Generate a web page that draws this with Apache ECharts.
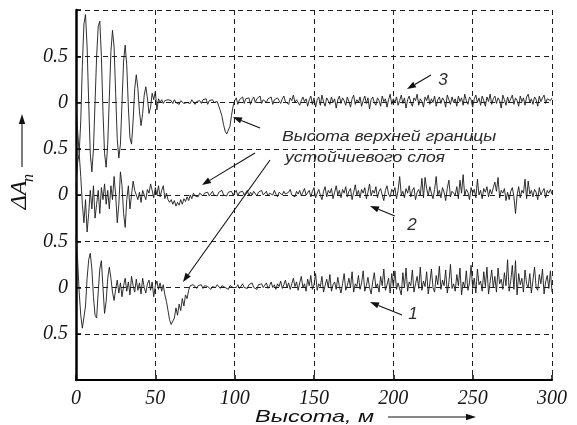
<!DOCTYPE html>
<html><head><meta charset="utf-8">
<script src="https://cdn.jsdelivr.net/npm/echarts@6/dist/echarts.min.js"></script>
<style>html,body{margin:0;padding:0;background:#fff}#c{width:577px;height:425px}</style>
</head><body><div id="c"></div>
<script>
// Amplitude deviation ΔA_n for three soundings, sampled every 1 m of height (0..300 m)
const trace3 = [
 0.05,-0.3,-0.55,-0.2,0.4,0.85,0.95,0.6,0.0,-0.55,
 -0.75,-0.5,0.0,0.5,0.82,0.88,0.5,-0.1,-0.55,-0.7,
 -0.45,0.05,0.55,0.78,0.6,0.1,-0.4,-0.6,-0.45,0.0,
 0.45,0.62,0.4,-0.05,-0.38,-0.45,-0.2,0.15,0.3,0.15,
 -0.1,-0.25,-0.12,0.08,0.17,0.05,-0.12,-0.05,0.1,0.03,
 0.12,-0.08,0.04,0.0,0.03,-0.01,0.02,0.0,0.03,0.01,
 0.02,-0.01,0.03,0.0,0.01,-0.02,0.02,0.04,-0.01,0.01,
 0.0,0.02,-0.01,0.03,0.05,-0.02,0.01,0.0,0.02,-0.01,
 0.03,0.01,0.04,-0.02,0.02,0.01,0.03,0.0,-0.02,0.01,
 -0.04,-0.09,-0.15,-0.24,-0.31,-0.34,-0.33,-0.26,-0.14,-0.04,
 0.02,0.05,-0.02,0.03,0.01,0.06,-0.01,0.04,0.02,0.05,
 -0.02,0.03,0.06,0.0,0.04,0.02,0.07,-0.01,0.03,0.05,
 0.0,0.04,0.02,0.06,-0.02,0.03,0.01,0.05,0.02,-0.01,
 0.04,0.07,0.01,0.03,-0.02,0.05,0.02,0.08,0.0,0.03,
 0.05,-0.03,0.02,0.06,0.01,0.04,-0.04,0.03,0.07,-0.02,
 0.05,-0.05,0.03,0.06,-0.03,0.08,0.01,-0.04,0.05,0.02,
 -0.02,0.06,0.0,0.04,-0.06,0.03,0.07,-0.01,0.05,0.02,
 -0.03,0.06,0.01,-0.05,0.04,0.08,-0.02,0.03,0.0,0.06,
 -0.04,0.02,0.07,-0.01,0.05,-0.07,0.03,0.06,0.0,-0.03,
 0.05,0.02,-0.04,0.07,0.01,0.04,-0.05,0.03,0.09,-0.02,
 0.04,0.0,0.06,-0.03,0.02,0.08,-0.01,0.05,-0.06,0.03,
 0.07,0.0,-0.04,0.05,0.02,0.09,-0.03,0.04,0.01,-0.05,
 0.06,0.02,0.08,-0.02,0.04,0.0,0.07,-0.04,0.03,0.06,
 -0.01,0.05,0.02,-0.05,0.08,0.03,-0.02,0.06,0.0,0.04,
 -0.04,0.07,0.01,0.05,-0.03,0.09,0.02,-0.02,0.06,0.03,
 -0.05,0.04,0.08,0.0,0.05,-0.03,0.07,0.02,-0.04,0.06,
 0.01,0.09,-0.02,0.04,0.07,-0.01,0.05,0.02,-0.06,0.08,
 0.03,-0.03,0.06,0.0,0.04,0.08,-0.02,0.05,0.02,-0.04,
 0.07,0.01,0.05,-0.03,0.06,0.09,0.0,0.04,-0.02,0.06,
 0.03,-0.04,0.07,0.01,0.05,0.08,-0.01,0.04,0.06,0.02,
 0.05
];
const trace2 = [
 0.1,0.35,0.45,0.2,-0.1,-0.3,-0.05,-0.4,-0.2,0.05,
 -0.15,0.1,-0.25,-0.1,0.05,-0.2,0.08,-0.05,0.12,-0.1,
 0.05,-0.15,0.1,-0.05,0.2,0.0,-0.3,-0.1,0.25,0.1,
 -0.2,-0.35,-0.05,0.1,-0.15,0.0,0.15,0.05,0.05,-0.05,
 0.03,-0.08,0.05,0.0,-0.05,0.06,0.02,0.12,0.05,-0.03,
 0.08,0.0,0.1,-0.02,0.05,0.1,-0.04,0.02,-0.05,-0.08,
 -0.05,-0.1,-0.06,-0.12,-0.08,-0.11,-0.05,-0.1,-0.04,-0.07,
 -0.02,-0.06,0.0,-0.04,0.02,-0.01,0.01,-0.02,0.02,0.0,
 -0.01,0.02,0.0,0.03,-0.01,0.01,0.04,0.0,0.02,-0.01,
 0.03,0.01,0.05,0.0,0.02,-0.01,0.03,0.01,0.04,0.0,
 0.02,0.05,-0.01,0.03,0.01,0.04,0.0,0.02,0.05,-0.01,
 0.03,0.0,0.04,0.02,-0.01,0.03,0.01,0.05,0.0,0.02,
 0.04,-0.01,0.02,0.03,0.0,0.05,0.01,-0.02,0.03,0.02,
 0.0,0.04,0.01,-0.01,0.03,0.06,0.0,0.02,-0.02,0.04,
 0.01,0.05,-0.01,0.03,0.07,0.0,0.02,0.05,-0.02,0.04,
 0.08,-0.03,0.02,0.06,0.0,-0.05,0.04,0.09,-0.02,0.05,
 0.02,0.07,-0.04,0.03,0.1,0.0,0.05,-0.03,0.06,0.02,
 0.09,-0.02,0.04,0.07,-0.05,0.03,0.11,0.0,0.05,-0.03,
 0.06,0.02,0.08,-0.04,0.03,0.12,-0.01,0.05,0.02,0.09,
 -0.03,0.04,0.07,0.0,-0.06,0.05,0.1,0.01,-0.02,0.06,
 0.03,0.08,-0.04,0.05,0.2,0.0,0.04,-0.03,0.07,0.02,
 0.1,-0.02,0.05,0.08,-0.05,0.03,0.06,0.0,0.18,-0.03,
 0.19,0.07,-0.01,0.09,0.02,-0.04,0.06,0.2,0.0,0.05,
 -0.03,0.08,0.03,-0.06,0.07,0.16,-0.02,0.04,0.06,0.0,
 0.09,-0.04,0.16,0.02,0.22,-0.01,0.06,0.03,-0.05,0.08,
 0.02,0.06,-0.03,0.17,0.0,0.05,-0.04,0.07,0.03,0.09,
 -0.02,0.06,0.01,0.08,0.14,0.04,0.19,-0.03,0.05,0.02,
 0.07,-0.06,0.03,-0.05,0.04,0.08,-0.02,-0.2,0.0,0.09,
 -0.03,0.05,0.02,0.17,-0.04,0.15,0.01,0.05,-0.02,0.06,
 0.03,-0.05,0.08,0.0,0.04,0.07,-0.03,0.05,0.02,0.06,
 0.01
];
const trace1 = [
 0.54,0.3,-0.05,-0.3,-0.44,-0.46,-0.2,0.1,0.3,0.37,
 0.2,-0.1,-0.3,-0.33,-0.05,0.2,0.29,0.0,-0.28,-0.15,
 0.1,0.22,0.1,-0.05,-0.14,-0.02,0.08,-0.06,0.05,-0.1,
 0.02,0.1,-0.04,0.06,-0.08,0.12,0.02,-0.05,0.09,-0.03,
 0.05,-0.07,0.1,0.0,-0.06,0.04,0.08,-0.03,0.06,-0.1,
 0.02,0.07,-0.02,0.05,-0.04,0.03,-0.08,-0.15,-0.25,-0.35,
 -0.4,-0.42,-0.33,-0.22,-0.3,-0.18,-0.25,-0.12,-0.2,-0.08,
 -0.12,-0.03,0.02,0.0,0.03,0.01,-0.01,0.02,0.0,0.03,
 -0.01,0.02,0.0,0.01,0.03,-0.02,0.01,0.02,0.0,0.03,
 0.01,-0.01,0.02,0.04,0.0,0.01,-0.02,0.02,0.03,0.0,
 0.02,0.0,0.03,-0.01,0.01,0.04,0.0,0.02,-0.01,0.03,
 0.01,0.05,0.0,0.02,-0.02,0.03,0.01,0.04,0.0,0.02,
 0.05,-0.01,0.02,0.06,0.0,0.03,-0.02,0.04,0.01,0.07,
 -0.01,0.03,0.08,0.0,0.05,-0.02,0.04,0.1,0.01,0.06,
 -0.03,0.05,0.12,0.0,0.04,-0.04,0.09,0.02,0.13,-0.02,
 0.03,0.15,-0.03,0.04,0.01,0.12,-0.05,0.02,0.09,0.0,
 0.14,-0.04,0.03,0.06,-0.02,0.11,0.01,-0.06,0.04,0.15,
 -0.03,0.02,0.1,0.0,0.17,-0.05,0.04,0.01,0.13,-0.02,
 0.05,0.18,-0.04,0.02,0.11,0.0,-0.07,0.06,0.16,0.0,
 0.04,-0.05,0.12,0.02,0.2,-0.03,0.03,0.1,-0.06,0.15,
 0.01,0.18,-0.02,0.05,0.03,-0.08,0.16,0.0,0.21,-0.04,
 0.06,0.02,0.19,-0.05,0.04,0.12,-0.01,0.22,-0.03,0.07,
 0.01,0.17,-0.07,0.05,0.2,0.0,-0.05,0.13,0.03,0.23,
 -0.02,0.08,0.02,0.19,-0.06,0.05,0.25,-0.01,0.04,-0.04,
 0.14,0.02,0.21,-0.08,0.06,0.0,0.18,-0.03,0.05,0.24,
 -0.01,0.1,-0.06,0.2,0.03,0.07,-0.04,0.17,0.01,0.22,
 -0.07,0.06,0.19,0.0,0.12,-0.05,0.21,0.04,0.09,-0.02,
 0.16,0.02,0.3,-0.04,0.07,0.24,-0.02,0.29,-0.08,0.15,
 0.03,0.1,-0.05,0.19,0.04,0.0,0.15,-0.06,0.08,0.22,
 0.0,-0.03,0.14,0.04,0.2,-0.07,0.06,0.13,-0.01,0.18,
 -0.05
];
// Each sounding is shifted to its own zero line on the shared axis
const baselines = [1, 2, 3];
const heightStep = 1; // m between samples
const yTickLabels = ['', '0.5', '0', '0.5', '0', '0.5', '0', '0.5', ''];
const xTickStep = 50;

const ink = '#161616';
const serif = 'Liberation Serif';
const sans = 'Liberation Sans';

function toPoints(values, base) {
  return values.map((v, i) => [i * heightStep, base + v]);
}

const chart = echarts.init(document.getElementById('c'), null, { renderer: 'canvas' });

const dashed = { color: '#1e1e1e', width: 1, type: [5, 4] };

chart.setOption({
  animation: false,
  backgroundColor: '#fff',
  grid: { left: 76, right: 25, top: 10, bottom: 45 },
  xAxis: {
    type: 'value', min: 0, max: 300, interval: xTickStep,
    axisLine: { show: true, onZero: false, lineStyle: { color: '#000', width: 2 } },
    axisTick: { show: true, inside: true, length: 5, lineStyle: { color: '#000', width: 1.5 } },
    axisLabel: { color: ink, fontFamily: serif, fontStyle: 'italic', fontSize: 20, margin: 9 },
    splitLine: { show: true, showMinLine: false, lineStyle: dashed }
  },
  yAxis: {
    type: 'value', min: 0, max: 4, interval: 0.5,
    axisLine: { show: true, onZero: false, lineStyle: { color: '#000', width: 2.5 } },
    axisTick: { show: true, inside: true, length: 5, lineStyle: { color: '#000', width: 1.5 } },
    axisLabel: {
      color: ink, fontFamily: serif, fontStyle: 'italic', fontSize: 20, margin: 8,
      formatter: v => yTickLabels[Math.round(v / 0.5)] || ''
    },
    splitLine: { show: true, showMinLine: false, lineStyle: dashed }
  },
  series: [trace1, trace2, trace3].map((vals, k) => ({
    type: 'line',
    data: toPoints(vals, baselines[k]),
    showSymbol: false,
    symbol: 'none',
    lineStyle: { color: '#1a1a1a', width: 0.9 },
    z: 3
  }))
});

// Annotations are anchored in data coordinates (height in m, axis units)
const px = p => chart.convertToPixel({ gridIndex: 0 }, p);

function arrow(fromD, toD, head, pixel) {
  const a = pixel ? fromD : px(fromD);
  const b = pixel ? toD : px(toD);
  const dx = b[0] - a[0], dy = b[1] - a[1];
  const len = Math.hypot(dx, dy);
  const ux = dx / len, uy = dy / len;
  const L = head || 9, W = 3.2;
  const bx = b[0] - ux * L, by = b[1] - uy * L;
  return [
    { type: 'line', silent: true, z: 10,
      shape: { x1: a[0], y1: a[1], x2: bx, y2: by },
      style: { stroke: '#111', lineWidth: 1.1 } },
    { type: 'polygon', silent: true, z: 10,
      shape: { points: [[b[0], b[1]], [bx - uy * W, by + ux * W], [bx + uy * W, by - ux * W]] },
      style: { fill: '#111' } }
  ];
}

function label(text, posD, opts) {
  const p = px(posD);
  return Object.assign({
    type: 'text', silent: true, z: 11, x: p[0], y: p[1],
    style: Object.assign({
      text, fill: '#2a2a2a', font: 'italic 14px "' + sans + '"',
      textAlign: 'left', textVerticalAlign: 'middle'
    }, opts.style || {})
  }, opts.el || {});
}

const g = [];
// boundary-layer annotation
g.push(label('Высота верхней границы', [129.8, 2.627], { el: { scaleX: 1.26 } }));
g.push(label('устойчиевого слоя', [131.7, 2.40], { el: { scaleX: 1.26 } }));
g.push(...arrow([116, 2.724], [98.9, 2.843]));
g.push(...arrow([112.8, 2.454], [79.4, 2.108]));
g.push(...arrow([122.3, 2.378], [67.4, 1.059]));
// sounding numbers
const numStyle = { font: 'italic 17px "' + sans + '"', textAlign: 'center' };
g.push(label('3', [231.3, 3.243], { style: numStyle }));
g.push(...arrow([223.7, 3.297], [208.6, 3.146]));
g.push(label('2', [211.8, 1.676], { style: numStyle }));
g.push(...arrow([201, 1.773], [185.3, 1.881]));
g.push(label('1', [212.4, 0.714], { style: numStyle }));
g.push(...arrow([205.5, 0.703], [185.3, 0.843]));

// axis titles
g.push({
  type: 'text', silent: true, x: 255, y: 417, scaleX: 1.38,
  style: { text: 'Высота, м', fill: '#111', font: 'italic 17px "' + sans + '"', textAlign: 'left', textVerticalAlign: 'middle' }
});
g.push(...arrow([388, 417], [476, 417], 10, true));
g.push({
  type: 'group', x: 20, y: 195, rotation: Math.PI / 2,
  children: [
    { type: 'text', x: 0, y: 0, style: { text: 'ΔA', fill: '#111', font: 'italic 24px "' + serif + '"', textAlign: 'center', textVerticalAlign: 'middle' } },
    { type: 'text', x: 17, y: 9, style: { text: 'n', fill: '#111', font: 'italic 16px "' + serif + '"', textAlign: 'center', textVerticalAlign: 'middle' } }
  ]
});
g.push(...arrow([22, 167], [22, 114], 10, true));

chart.setOption({ graphic: g });
</script></body></html>
